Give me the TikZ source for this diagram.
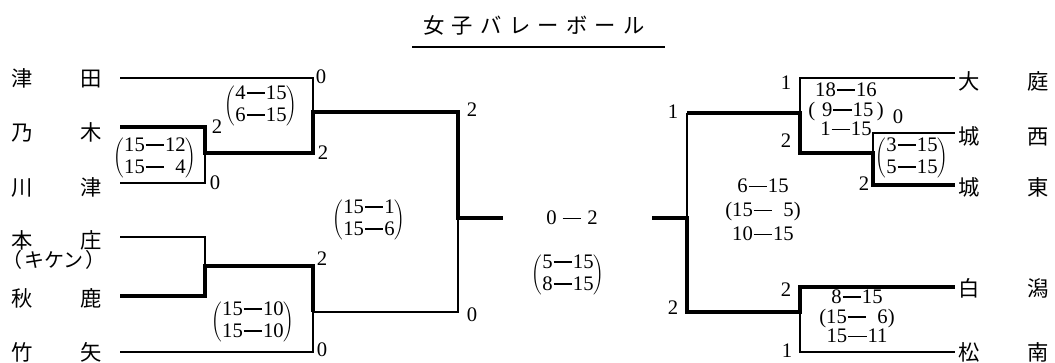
\documentclass[tikz,border=0pt]{standalone}
\usepackage{fontspec}
\setmainfont{Liberation Serif}
\newfontfamily\jp{Noto Sans CJK JP}
\newcommand\dd{\kern0.04em\rule[0.26em]{0.9em}{0.075em}\kern0.04em}
\newcommand\twosc[2]{$\left(\begin{tabular}{@{}c@{}}#1\\#2\end{tabular}\right)$}
\newcommand\threesc[3]{\begin{tabular}{@{}c@{}}#1\\#2\\#3\end{tabular}}
\tikzset{
  lnthin/.style={line width=1.1pt},
  lnmed/.style={line width=1.6pt},
  lnthick/.style={line width=2.4pt, line join=miter},
  school/.style={font=\jp\fontsize{16}{16}\selectfont, inner sep=0pt},
  note/.style={font=\jp\fontsize{15}{15}\selectfont, inner sep=0pt},
  score/.style={font=\fontsize{15.5}{16.5}\selectfont, inner sep=0pt},
  score3/.style={font=\fontsize{15.5}{14.2}\selectfont, inner sep=0pt},
  score3w/.style={font=\fontsize{15.5}{18}\selectfont, inner sep=0pt},
}
\begin{document}
\begin{tikzpicture}[x=0.75pt,y=-0.75pt]
\useasboundingbox (0,0) rectangle (1055,363);
\fill[white] (0,0) rectangle (1055,363);

% title
\node[font=\jp\fontsize{16}{16}\selectfont, inner sep=0pt] (title) at (534,25)
  {女\hspace{5.5pt}子\hspace{5.5pt}バ\hspace{5.5pt}レ\hspace{5.5pt}ー\hspace{5.5pt}ボ\hspace{5.5pt}ー\hspace{5.5pt}ル};
\coordinate (u1) at (412,47);
\coordinate (u2) at (665,47);
\draw[lnthin] (u1) -- (u2);

% left schools
\node[school] (n1) at (56.5,78) {津\hspace{36pt}田};
\node[school] (n2) at (56.5,132) {乃\hspace{36pt}木};
\node[school] (n3) at (56.5,187) {川\hspace{36pt}津};
\node[school] (n4) at (56.5,240) {本\hspace{36pt}庄};
\node[note]   (n4k) at (54,260) {（\hspace{1pt}キケン\hspace{1pt}）};
\node[school] (n5) at (56.5,298) {秋\hspace{36pt}鹿};
\node[school] (n6) at (56.5,352) {竹\hspace{36pt}矢};

% right schools
\node[school] (m1) at (1003.5,81) {大\hspace{36pt}庭};
\node[school] (m2) at (1003.5,136) {城\hspace{36pt}西};
\node[school] (m3) at (1003.5,187) {城\hspace{36pt}東};
\node[school] (m4) at (1003.5,288) {白\hspace{36pt}潟};
\node[school] (m5) at (1003.5,352) {松\hspace{36pt}南};

% left bracket coordinates
\coordinate (a1) at (120,78);
\coordinate (a2) at (120,127);
\coordinate (a3) at (120,183);
\coordinate (a4) at (120,237);
\coordinate (a5) at (120,296);
\coordinate (a6) at (120,352);
\coordinate (j1) at (205,153);
\coordinate (j2) at (313,112);
\coordinate (j3) at (205,266);
\coordinate (j4) at (313,312);
\coordinate (j5) at (458,218);
\coordinate (f1) at (503,218);

\draw[lnthin] (a1) -| (j2);
\draw[lnthin] (a3) -| (j1);
\draw[lnthin] (a4) -| (j3);
\draw[lnthin] (a6) -| (j4);
\draw[lnmed] (j4) -| (j5);
\draw[lnthick] (a2) -| (j1) -| (j2) -| (j5) -- (f1);
\draw[lnthick] (a5) -| (j3) -| (j4);

% right bracket coordinates
\coordinate (b1) at (955,78);
\coordinate (b2) at (955,133);
\coordinate (b3) at (955,185);
\coordinate (b4) at (955,287);
\coordinate (b5) at (955,352);
\coordinate (k1) at (873,153);
\coordinate (k2) at (800,113);
\coordinate (k3) at (800,312);
\coordinate (k4) at (687,218);
\coordinate (k5) at (687,113);
\coordinate (f2) at (652,218);

\draw[lnthin] (k2) |- (b1);
\draw[lnthin] (k1) |- (b2);
\draw[lnthin] (k3) |- (b5);
\draw[lnthin] (k4) -- (k5);
\draw[lnthick] (f2) -- (k4) |- (k3) |- (b4);
\draw[lnthick] (k5) -- (k2) |- (k1) |- (b3);

% left round scores
\node[score] (s1) at (321,77) {0};
\node[score] (s2) at (217,127) {2};
\node[score] (s3) at (323,153) {2};
\node[score] (s4) at (215,183) {0};
\node[score] (s5) at (322,259) {2};
\node[score] (s6) at (322,350) {0};
\node[score] (s7) at (472,110) {2};
\node[score] (s8) at (472,315) {0};

% left set scores
\node[score] (g1) at (261,106) {\twosc{4\dd15}{6\dd15}};
\node[score] (g2) at (155,158) {\twosc{15\dd12}{15\dd\phantom{1}4}};
\node[score] (g3) at (253,322) {\twosc{15\dd10}{15\dd10}};
\node[score] (g4) at (369,220) {\twosc{15\dd1}{15\dd6}};

% final
\node[score] (fin) at (572,218) {0 \dd{} 2};
\node[score] (g5) at (568,275) {\twosc{5\dd15}{8\dd15}};

% right round scores
\node[score] (r1) at (673,112) {1};
\node[score] (r2) at (673,308) {2};
\node[score] (r3) at (786,83) {1};
\node[score] (r4) at (786,141) {2};
\node[score] (r5) at (864,184) {2};
\node[score] (r6) at (898,117) {0};
\node[score] (r7) at (786,290) {2};
\node[score] (r8) at (787,351) {1};

% right set scores
\node[score3] (h1) at (846,112) {\threesc{18\dd16}{(\,\,9\dd15\,)}{1\dd15}};
\node[score] (h2) at (912,158) {\twosc{3\dd15}{5\dd15}};
\node[score3w] (h3) at (763,212) {\threesc{6\dd15}{(15\dd\phantom{1}5)}{10\dd15}};
\node[score3] (h4) at (857,319) {\threesc{8\dd15}{(15\dd\phantom{1}6)}{15\dd11}};
\end{tikzpicture}
\end{document}
